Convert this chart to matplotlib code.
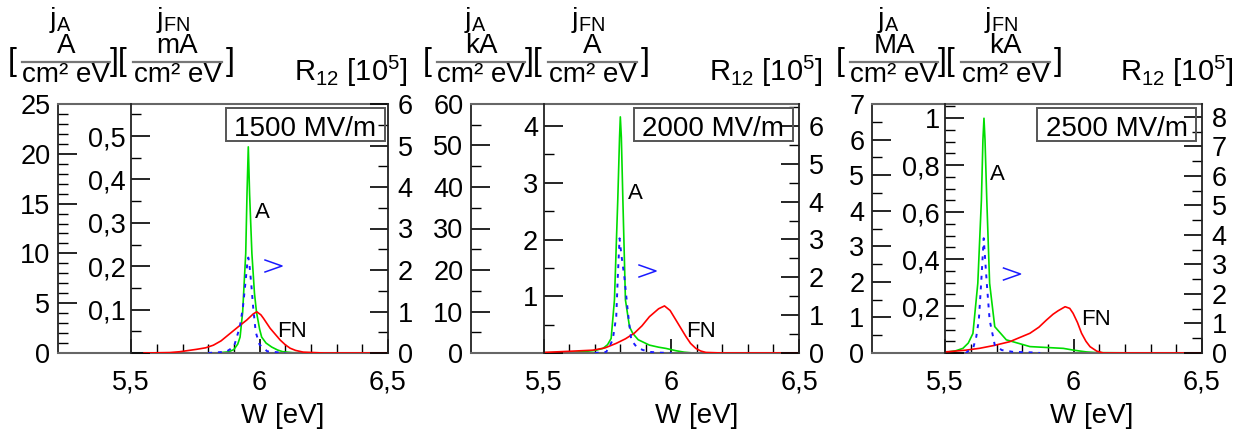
import matplotlib
matplotlib.use('Agg')
import matplotlib.pyplot as plt
from matplotlib.ticker import MultipleLocator, FuncFormatter
from matplotlib.patches import Rectangle
from matplotlib.lines import Line2D

plt.rcParams['font.family'] = ['Liberation Sans', 'DejaVu Sans']
plt.rcParams['mathtext.fontset'] = 'custom'
plt.rcParams['mathtext.rm'] = 'Liberation Sans'

# ---- data ----
fields = ['1500 MV/m', '2000 MV/m', '2500 MV/m']
unit_A = ['A', 'kA', 'MA']
unit_FN = ['mA', 'A', 'kA']

# panel 1 (1500 MV/m)
w_A1 = [5.60, 5.84, 5.88, 5.90, 5.915, 5.924, 5.934, 5.946, 5.951, 5.956, 5.961, 5.970, 5.980,
        5.988, 6.000, 6.008, 6.025, 6.047, 6.07, 6.09, 6.13, 6.30]
j_A1 = [0, 0.02, 0.12, 0.35, 0.9, 1.6, 4.1, 10.0, 16.0, 20.7, 16.0, 10.0, 6.0,
        4.1, 2.4, 1.6, 1.0, 0.6, 0.3, 0.13, 0.03, 0]
w_FN1 = [5.55, 5.65, 5.69, 5.755, 5.79, 5.82, 5.85, 5.885, 5.918, 5.95, 5.975, 5.989, 6.005,
         6.015, 6.041, 6.08, 6.10, 6.119, 6.14, 6.17, 6.25, 6.5]
j_FN1 = [0, 0.001, 0.003, 0.0085, 0.012, 0.018, 0.028, 0.045, 0.061, 0.076, 0.09, 0.095, 0.088,
         0.08, 0.057, 0.03, 0.019, 0.011, 0.006, 0.002, 0, 0]
w_R1 = [5.80, 5.87, 5.90, 5.923, 5.935, 5.945, 5.952, 5.956, 5.96, 5.967, 5.975, 5.985, 6.00, 6.03, 6.1]
r_1 = [0, 0.03, 0.15, 0.63, 1.1, 1.7, 2.15, 2.3, 2.15, 1.7, 1.1, 0.5, 0.2, 0.04, 0]

# panel 2 (2000 MV/m)
w_A2 = [5.50, 5.60, 5.65, 5.70, 5.732, 5.750, 5.764, 5.777, 5.790, 5.797, 5.800, 5.804, 5.810,
        5.820, 5.836, 5.849, 5.87, 5.914, 5.95, 5.979, 6.018, 6.05, 6.08, 6.3]
j_A2 = [0.05, 0.15, 0.3, 0.6, 1.1, 2.0, 3.5, 12.8, 36.9, 52, 56.9, 52, 36.9,
        12.8, 6.3, 4.7, 3.2, 1.9, 1.4, 1.1, 0.55, 0.2, 0.03, 0]
w_FN2 = [5.5, 5.55, 5.60, 5.693, 5.74, 5.784, 5.82, 5.855, 5.885, 5.914, 5.95, 5.973, 5.995,
         6.018, 6.057, 6.075, 6.096, 6.115, 6.135, 6.2, 6.5]
j_FN2 = [0.01, 0.02, 0.03, 0.05, 0.09, 0.17, 0.25, 0.35, 0.48, 0.64, 0.78, 0.83, 0.75,
         0.58, 0.29, 0.17, 0.08, 0.035, 0.01, 0, 0]
w_R2 = [5.70, 5.745, 5.77, 5.784, 5.79, 5.797, 5.804, 5.816, 5.83, 5.843, 5.865, 5.888, 5.914, 5.95, 6.0]
r_2 = [0, 0.03, 0.34, 0.96, 2.0, 3.03, 2.6, 2.0, 1.05, 0.34, 0.15, 0.08, 0.03, 0.01, 0]

# panel 3 (2500 MV/m)
w_A3 = [5.50, 5.54, 5.569, 5.59, 5.608, 5.627, 5.641, 5.647, 5.651, 5.655, 5.662, 5.673, 5.693,
        5.738, 5.83, 5.96, 6.0, 6.05, 6.09, 6.3]
j_A3 = [0.02, 0.06, 0.13, 0.28, 0.55, 1.96, 4.3, 6.0, 6.6, 6.0, 4.3, 1.96, 0.74,
        0.37, 0.18, 0.13, 0.08, 0.03, 0.01, 0]
w_FN3 = [5.5, 5.517, 5.58, 5.634, 5.69, 5.751, 5.83, 5.865, 5.894, 5.92, 5.94, 5.967, 5.985,
         5.998, 6.015, 6.031, 6.048, 6.064, 6.09, 6.116, 6.2, 6.5]
j_FN3 = [0.005, 0.006, 0.012, 0.02, 0.032, 0.048, 0.084, 0.11, 0.14, 0.165, 0.18, 0.197, 0.19,
         0.169, 0.13, 0.084, 0.05, 0.027, 0.008, 0, 0, 0]
w_R3 = [5.58, 5.61, 5.621, 5.631, 5.64, 5.65, 5.662, 5.673, 5.693, 5.72, 5.763, 5.80, 5.836, 5.87]
r_3 = [0, 0.2, 0.55, 1.12, 2.36, 3.89, 2.36, 1.12, 0.27, 0.1, 0.04, 0.03, 0.02, 0]

curves = [(w_A1, j_A1, w_FN1, j_FN1, w_R1, r_1),
          (w_A2, j_A2, w_FN2, j_FN2, w_R2, r_2),
          (w_A3, j_A3, w_FN3, j_FN3, w_R3, r_3)]

# axis ranges and tick steps (major, minor) per panel
ylim_A = [25, 60, 7]
ylim_FN = [0.574, 4.39, 1.06]
ylim_R = [6.0, 6.58, 8.44]
step_A = [(5, 1), (10, 5), (1, 0.5)]
step_FN = [(0.1, 0.05), (1, 0.5), (0.2, 0.05)]
step_R = [(1, 0.5), (1, 0.5), (1, 0.5)]

# ---- layout (pixels) ----
W_PX, H_PX = 1246, 434
box_px = [(58, 388, 104, 353), (471, 799, 104, 353), (872, 1202, 104, 353)]
head_L = [22, 437, 850]
r12_right = [408, 823, 1234]
field_box = [(226, 385), (634, 793), (1037, 1196)]
lab_A = [(262.5, 218), (635, 199), (997.5, 180)]
lab_FN = [(292, 337), (701, 337), (1096, 325)]
lab_gt = [(273.5, 266), (647.5, 271), (1012, 274)]
xlab_x = [282.5, 697, 1092]

GREEN = '#00dd00'
RED = '#ff0000'
BLUE = '#1a1aff'

fig = plt.figure(figsize=(12.46, 4.34), dpi=100)


def fx(px):
    return px / W_PX


def fy(py):
    return 1 - py / H_PX


def comma(v, pos=None):
    if abs(v) < 1e-9:
        return '0'
    return f'{v:g}'.replace('.', ',')


def comma_no0(v, pos=None):
    if abs(v) < 1e-9:
        return ''
    return comma(v)


for i in range(3):
    l, r, t, b = box_px[i]
    ax = fig.add_axes([fx(l), fy(b), (r - l) / W_PX, (b - t) / H_PX])
    ax_fn = ax.twinx()
    ax_r = ax.twinx()
    wA, jA, wF, jF, wR, rr = curves[i]

    ax.plot(wA, jA, color=GREEN, lw=1.2)
    ax_fn.plot(wF, jF, color=RED, lw=1.2)
    ax_r.plot(wR, rr, color=BLUE, lw=1.4, ls=(0, (2, 3)))

    ax.set_xlim(5.215, 6.5)
    ax.set_ylim(0, ylim_A[i])
    ax_fn.set_ylim(0, ylim_FN[i])
    ax_r.set_ylim(0, ylim_R[i])

    # x axis
    ax.set_xticks([5.5, 6.0, 6.5])
    ax.set_xticks([5.6, 5.7, 5.8, 5.9, 6.1, 6.2, 6.3, 6.4], minor=True)
    ax.set_xticklabels(['5,5', '6', '6,5'])
    ax.tick_params(axis='x', which='both', direction='in', top=False, labelsize=19.5, pad=12)
    ax.tick_params(axis='x', which='major', length=10, width=1.2)
    ax.tick_params(axis='x', which='minor', length=6.5, width=1.0)

    # j_A axis (left)
    ax.yaxis.set_major_locator(MultipleLocator(step_A[i][0]))
    ax.yaxis.set_minor_locator(MultipleLocator(step_A[i][1]))
    ax.yaxis.set_major_formatter(FuncFormatter(comma))
    ax.tick_params(axis='y', which='both', direction='in', right=False, labelsize=19.5, pad=5.5)
    ax.tick_params(axis='y', which='major', length=13.5, width=1.2)
    ax.tick_params(axis='y', which='minor', length=7, width=1.0)

    # j_FN axis (spine at W = 5.5)
    for s in ['right', 'top', 'bottom']:
        ax_fn.spines[s].set_visible(False)
    ax_fn.spines['left'].set_visible(True)
    ax_fn.spines['left'].set_position(('data', 5.5))
    ax_fn.spines['left'].set_color('#222222')
    ax_fn.spines['left'].set_linewidth(1.3)
    ax_fn.yaxis.tick_left()
    ax_fn.yaxis.set_major_locator(MultipleLocator(step_FN[i][0]))
    ax_fn.yaxis.set_minor_locator(MultipleLocator(step_FN[i][1]))
    ax_fn.yaxis.set_major_formatter(FuncFormatter(comma_no0))
    ax_fn.tick_params(axis='y', which='both', direction='in', labelsize=19.5, pad=4)
    ax_fn.tick_params(axis='y', which='major', length=13.5, width=1.2)
    ax_fn.tick_params(axis='y', which='minor', length=7, width=1.0)

    # R12 axis (right)
    for s in ['left', 'top', 'bottom']:
        ax_r.spines[s].set_visible(False)
    ax_r.spines['right'].set_color('#222222')
    ax_r.spines['right'].set_linewidth(1.3)
    ax_r.yaxis.set_major_locator(MultipleLocator(step_R[i][0]))
    ax_r.yaxis.set_minor_locator(MultipleLocator(step_R[i][1]))
    ax_r.yaxis.set_major_formatter(FuncFormatter(comma))
    ax_r.tick_params(axis='y', which='both', direction='in', labelsize=19.5, pad=7)
    ax_r.tick_params(axis='y', which='major', length=13, width=1.2)
    ax_r.tick_params(axis='y', which='minor', length=7, width=1.0)

    for s in ['top', 'bottom']:
        ax.spines[s].set_color('#666666')
        ax.spines[s].set_linewidth(1.5)
    ax.spines['left'].set_color('#222222')
    ax.spines['left'].set_linewidth(1.3)
    ax.spines['right'].set_visible(False)

    # header: j_A [A/(cm² eV)] j_FN [.../(cm² eV)]   R12 [10^5]
    L = head_L[i]
    fig.text(fx(L + 38), fy(27), r'j$_\mathregular{A}$', ha='center', va='baseline', fontsize=20.5)
    fig.text(fx(L + 151), fy(27), r'j$_\mathregular{FN}$', ha='center', va='baseline', fontsize=20.5)
    fig.text(fx(L - 10), fy(70), '[', ha='center', va='baseline', fontsize=23)
    fig.text(fx(L + 97), fy(70), '][', ha='center', va='baseline', fontsize=23)
    fig.text(fx(L + 208), fy(70), ']', ha='center', va='baseline', fontsize=23)
    for x0, x1, num in [(L, L + 88, unit_A[i]), (L + 111, L + 200, unit_FN[i])]:
        fig.add_artist(Line2D([fx(x0), fx(x1)], [fy(61.7), fy(61.7)], color='#777777', lw=1.6))
        fig.text(fx((x0 + x1) / 2), fy(53), num, ha='center', va='baseline', fontsize=20)
        fig.text(fx((x0 + x1) / 2), fy(82), 'cm² eV', ha='center', va='baseline', fontsize=20)
    fig.text(fx(r12_right[i]), fy(81), r'R$_\mathregular{12}$ [10$^\mathregular{5}$]',
             ha='right', va='baseline', fontsize=21)

    # field strength box
    x0, x1 = field_box[i]
    fig.add_artist(Rectangle((fx(x0), fy(141)), (x1 - x0) / W_PX, 33 / H_PX, fill=False,
                             ec='#555555', lw=1.4, transform=fig.transFigure))
    fig.text(fx((x0 + x1) / 2), fy(136.5), fields[i], ha='center', va='baseline', fontsize=20)

    # curve labels
    fig.text(fx(lab_A[i][0]), fy(lab_A[i][1]), 'A', ha='center', va='baseline', fontsize=16)
    fig.text(fx(lab_FN[i][0]), fy(lab_FN[i][1]), 'FN', ha='center', va='baseline', fontsize=16)
    # thin blue chevron marking the R12 curve
    cx, cy = lab_gt[i]
    fig.add_artist(Line2D([fx(cx - 8.5), fx(cx + 8.5), fx(cx - 8.5)],
                          [fy(cy - 6), fy(cy), fy(cy + 6)], color=BLUE, lw=1.1))

    fig.text(fx(xlab_x[i]), fy(423), 'W [eV]', ha='center', va='baseline', fontsize=20)

fig.savefig('out.png', dpi=100)
